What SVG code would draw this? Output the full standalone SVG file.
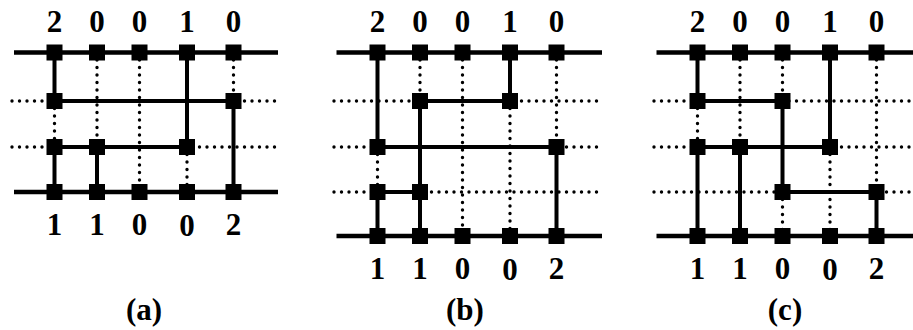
<svg xmlns="http://www.w3.org/2000/svg" width="913" height="330" viewBox="0 0 913 330">
<style>
.s{stroke:#000;stroke-width:4;fill:none}
.m{stroke:#000;stroke-width:4.5;fill:none}
.d{stroke:#000;stroke-width:3.4;stroke-dasharray:0 7.5;stroke-linecap:round;fill:none}
.n{fill:#000}
text{font-family:"Liberation Serif","DejaVu Serif",serif;font-weight:bold;font-size:31px;text-anchor:middle;fill:#000}
</style>
<defs>
<rect id="sq" x="-8" y="-8" width="16" height="16" class="n"/>
</defs>

<!-- Panel (a) -->
<g id="panel-a">
<g id="a-connectors">
<path class="d" d="M12 101H279M12 147H279"/>
<path class="d" d="M54.5 101V147M97 52.5V147M139.5 52.5V192M187 147V192M233.5 52.5V101"/>
<path class="m" d="M14 52.5H278M14 192H278"/>
<path class="s" d="M54.5 101H233.5M54.5 147H187"/>
<path class="s" d="M54.5 52.5V101M54.5 147V192M97 147V192M187 52.5V147M233.5 101V192"/>
</g>
<g id="a-n1"><use href="#sq" x="54.5" y="52.5"/></g>
<g id="a-n2"><use href="#sq" x="97" y="52.5"/></g>
<g id="a-n3"><use href="#sq" x="139.5" y="52.5"/></g>
<g id="a-n4"><use href="#sq" x="187" y="52.5"/></g>
<g id="a-n5"><use href="#sq" x="233.5" y="52.5"/></g>
<g id="a-n6"><use href="#sq" x="54.5" y="101"/></g>
<g id="a-n7"><use href="#sq" x="233.5" y="101"/></g>
<g id="a-n8"><use href="#sq" x="54.5" y="147"/></g>
<g id="a-n9"><use href="#sq" x="97" y="147"/></g>
<g id="a-n10"><use href="#sq" x="187" y="147"/></g>
<g id="a-n11"><use href="#sq" x="54.5" y="192"/></g>
<g id="a-n12"><use href="#sq" x="97" y="192"/></g>
<g id="a-n13"><use href="#sq" x="139.5" y="192"/></g>
<g id="a-n14"><use href="#sq" x="187" y="192"/></g>
<g id="a-n15"><use href="#sq" x="233.5" y="192"/></g>
<g id="a-labels">
<text x="54.5" y="32">2</text><text x="97" y="32">0</text><text x="139.5" y="32">0</text><text x="187" y="32">1</text><text x="233.5" y="32">0</text>
<text x="54.5" y="235">1</text><text x="97" y="235">1</text><text x="139.5" y="235">0</text><text x="187" y="236">0</text><text x="233.5" y="235">2</text>
<text x="144" y="320">(a)</text>
</g>
</g>

<!-- Panel (b) -->
<g id="panel-b" transform="translate(323,0)">
<g id="b-connectors">
<path class="d" d="M11 101H279M11 147H279M11 192H279"/>
<path class="d" d="M54.5 147V192M97 52.5V101M139.5 52.5V236M187 101V236M233.5 52.5V147"/>
<path class="m" d="M13.5 52.5H279M13.5 236H279"/>
<path class="s" d="M97 101H187M54.5 147H233.5M54.5 192H97"/>
<path class="s" d="M54.5 52.5V147M54.5 192V236M97 101V236M187 52.5V101M233.5 147V236"/>
</g>
<g id="b-n1"><use href="#sq" x="54.5" y="52.5"/></g>
<g id="b-n2"><use href="#sq" x="97" y="52.5"/></g>
<g id="b-n3"><use href="#sq" x="139.5" y="52.5"/></g>
<g id="b-n4"><use href="#sq" x="187" y="52.5"/></g>
<g id="b-n5"><use href="#sq" x="233.5" y="52.5"/></g>
<g id="b-n6"><use href="#sq" x="97" y="101"/></g>
<g id="b-n7"><use href="#sq" x="187" y="101"/></g>
<g id="b-n8"><use href="#sq" x="54.5" y="147"/></g>
<g id="b-n9"><use href="#sq" x="233.5" y="147"/></g>
<g id="b-n10"><use href="#sq" x="54.5" y="192"/></g>
<g id="b-n11"><use href="#sq" x="97" y="192"/></g>
<g id="b-n12"><use href="#sq" x="54.5" y="236"/></g>
<g id="b-n13"><use href="#sq" x="97" y="236"/></g>
<g id="b-n14"><use href="#sq" x="139.5" y="236"/></g>
<g id="b-n15"><use href="#sq" x="187" y="236"/></g>
<g id="b-n16"><use href="#sq" x="233.5" y="236"/></g>
<g id="b-labels">
<text x="54.5" y="32">2</text><text x="97" y="32">0</text><text x="139.5" y="32">0</text><text x="187" y="32">1</text><text x="233.5" y="32">0</text>
<text x="54.5" y="279">1</text><text x="97" y="279">1</text><text x="139.5" y="279">0</text><text x="187" y="280">0</text><text x="233.5" y="279">2</text>
<text x="142" y="320">(b)</text>
</g>
</g>

<!-- Panel (c) -->
<g id="panel-c" transform="translate(643,0)">
<g id="c-connectors">
<path class="d" d="M11 101H279M11 147H279M11 192H279"/>
<path class="d" d="M54.5 101V147M97 52.5V147M139.5 52.5V101M139.5 192V236M187 147V236M233.5 52.5V192"/>
<path class="m" d="M13.5 52.5H279M13.5 236H279"/>
<path class="s" d="M54.5 101H139.5M54.5 147H187M139.5 192H233.5"/>
<path class="s" d="M54.5 52.5V101M54.5 147V236M97 147V236M139.5 101V192M187 52.5V147M233.5 192V236"/>
</g>
<g id="c-n1"><use href="#sq" x="54.5" y="52.5"/></g>
<g id="c-n2"><use href="#sq" x="97" y="52.5"/></g>
<g id="c-n3"><use href="#sq" x="139.5" y="52.5"/></g>
<g id="c-n4"><use href="#sq" x="187" y="52.5"/></g>
<g id="c-n5"><use href="#sq" x="233.5" y="52.5"/></g>
<g id="c-n6"><use href="#sq" x="54.5" y="101"/></g>
<g id="c-n7"><use href="#sq" x="139.5" y="101"/></g>
<g id="c-n8"><use href="#sq" x="54.5" y="147"/></g>
<g id="c-n9"><use href="#sq" x="97" y="147"/></g>
<g id="c-n10"><use href="#sq" x="187" y="147"/></g>
<g id="c-n11"><use href="#sq" x="139.5" y="192"/></g>
<g id="c-n12"><use href="#sq" x="233.5" y="192"/></g>
<g id="c-n13"><use href="#sq" x="54.5" y="236"/></g>
<g id="c-n14"><use href="#sq" x="97" y="236"/></g>
<g id="c-n15"><use href="#sq" x="139.5" y="236"/></g>
<g id="c-n16"><use href="#sq" x="187" y="236"/></g>
<g id="c-n17"><use href="#sq" x="233.5" y="236"/></g>
<g id="c-labels">
<text x="54.5" y="32">2</text><text x="97" y="32">0</text><text x="139.5" y="32">0</text><text x="187" y="32">1</text><text x="233.5" y="32">0</text>
<text x="54.5" y="279">1</text><text x="97" y="279">1</text><text x="139.5" y="279">0</text><text x="187" y="280">0</text><text x="233.5" y="279">2</text>
<text x="142" y="320">(c)</text>
</g>
</g>
</svg>
